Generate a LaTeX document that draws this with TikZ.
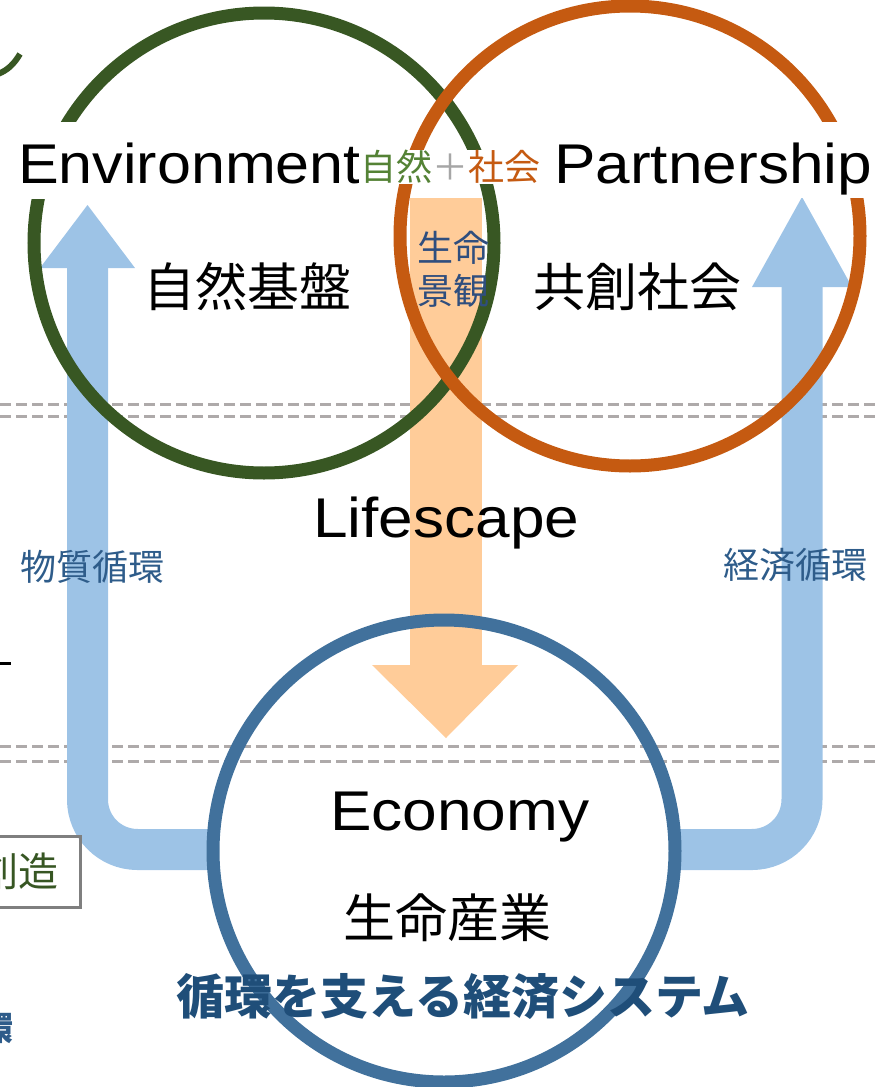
\documentclass[tikz,border=0pt]{standalone}
\usepackage{fontspec}
\setmainfont{Liberation Sans}
\newfontfamily\jp{Noto Sans CJK JP}
\definecolor{cgreen}{HTML}{385723}
\definecolor{corange}{HTML}{C55A11}
\definecolor{cblue}{HTML}{41719C}
\definecolor{arrowblue}{HTML}{9DC3E6}
\definecolor{peach}{HTML}{FFCC99}
\definecolor{dashgray}{HTML}{AEAAAA}
\definecolor{tgreen}{HTML}{548235}
\definecolor{dgreen}{HTML}{375623}
\definecolor{tgray}{HTML}{A6A6A6}
\definecolor{tblue}{HTML}{2E5C8A}
\definecolor{tnavy}{HTML}{2F4E7E}
\definecolor{bnavy}{HTML}{1F4E79}
\definecolor{boxgray}{HTML}{7F7F7F}
\newcommand\widetxt[1]{\scalebox{1.11}[1]{#1}}
\tikzset{
  ring/.style={line width=13pt},
  dashln/.style={draw=dashgray, line width=3pt, dash pattern=on 11pt off 5pt},
  bluearrow/.style={draw=arrowblue, line width=41pt, rounded corners=50pt},
  lat/.style={font=\fontsize{56}{60}\selectfont, inner sep=0pt, anchor=base west},
  titlebox/.style={lat, fill=white, text height=61pt, text depth=16pt, inner xsep=8pt},
  jpbig/.style={font=\jp\fontsize{52}{56}\selectfont, inner sep=0pt},
  jpmid/.style={font=\jp\fontsize{36}{40}\selectfont, inner sep=0pt},
}
\begin{document}
\begin{tikzpicture}[x=1pt,y=-1pt]
\useasboundingbox (0,0) rectangle (877,1087);
\clip (0,0) rectangle (877,1087);
% dashed guide lines
\coordinate (d1a) at (0,404); \coordinate (d1b) at (877,404);
\coordinate (d2a) at (0,416); \coordinate (d2b) at (877,416);
\coordinate (d3a) at (0,746); \coordinate (d3b) at (877,746);
\coordinate (d4a) at (0,761); \coordinate (d4b) at (877,761);
\draw[dashln] (d1a) -- (d1b);
\draw[dashln] (d2a) -- (d2b);
\draw[dashln] (d3a) -- (d3b);
\draw[dashln] (d4a) -- (d4b);
% circle centres
\coordinate (envc) at (264,243);
\coordinate (parc) at (630,236);
\coordinate (ecoc) at (444,851);
% blue arrows
\coordinate (ls) at (214,849.5);
\coordinate (lc) at (87.5,849.5);
\coordinate (le) at (87.5,267);
\draw[bluearrow] (ls) -- (lc) -- (le);
\fill[arrowblue] (40,268) -- (87.5,205) -- (135,268) -- cycle;
\coordinate (rs) at (674,849.5);
\coordinate (rc) at (802,849.5);
\coordinate (re) at (802,286);
\draw[bluearrow] (rs) -- (rc) -- (re);
\fill[arrowblue] (752,287) -- (802,197) -- (852,287) -- cycle;
% peach arrow
\fill[peach] (410,198) rectangle (482,666);
\fill[peach] (372,665) -- (446,738) -- (518,665) -- cycle;
% circles
\draw[ring, cgreen] (envc) circle[radius=230];
\draw[ring, corange] (parc) circle[radius=230];
\draw[ring, cblue] (ecoc) circle[radius=231];
% fragments at left edge
\draw[cgreen, line width=6pt] (20,54) .. controls (14,64) and (8,70) .. (-2,74);
\draw[line width=3pt] (-1,663) -- (11,663);
\draw[boxgray, line width=3pt] (-10,836) rectangle (80,907);
\node[font=\jp\fontsize{40}{44}\selectfont, text=dgreen, inner sep=0pt, anchor=east] (sozo) at (59,871) {創造};
\node[font=\jp\bfseries\fontsize{33}{36}\selectfont, text=tblue, inner sep=0pt, anchor=east] (kan) at (14,1028) {環};
% texts
\node[titlebox] (env) at (10,183) {\scalebox{1.09}[1]{Environment}};
\node[titlebox, text height=61pt, text depth=15pt] (par) at (546,183) {\widetxt{Partnership}};
\node[jpmid, anchor=west, fill=white, inner xsep=1pt, inner ysep=0pt] (shizen) at (359,167) {\textcolor{tgreen}{自然}\textcolor{tgray}{＋}\textcolor{corange}{社会}};
\node[jpbig] (kiban) at (247,287) {自然基盤};
\node[jpbig] (kyoso) at (637,287) {共創社会};
\node[jpmid, text=tnavy] (seimei) at (453,248) {生命};
\node[jpmid, text=tnavy] (keikan) at (453,291) {景観};
\node[lat] (life) at (313,537) {\widetxt{Lifescape}};
\node[jpmid, text=tblue] (busshitsu) at (92,567) {物質循環};
\node[jpmid, text=tblue] (keizai) at (795,565) {経済循環};
\node[lat] (eco) at (330,830) {\widetxt{Economy}};
\node[jpbig] (sangyo) at (447,918) {生命産業};
\node[font=\jp\bfseries\fontsize{48}{52}\selectfont, text=bnavy, inner sep=0pt] (system) at (463,997) {循環を支える経済システム};
\end{tikzpicture}
\end{document}
